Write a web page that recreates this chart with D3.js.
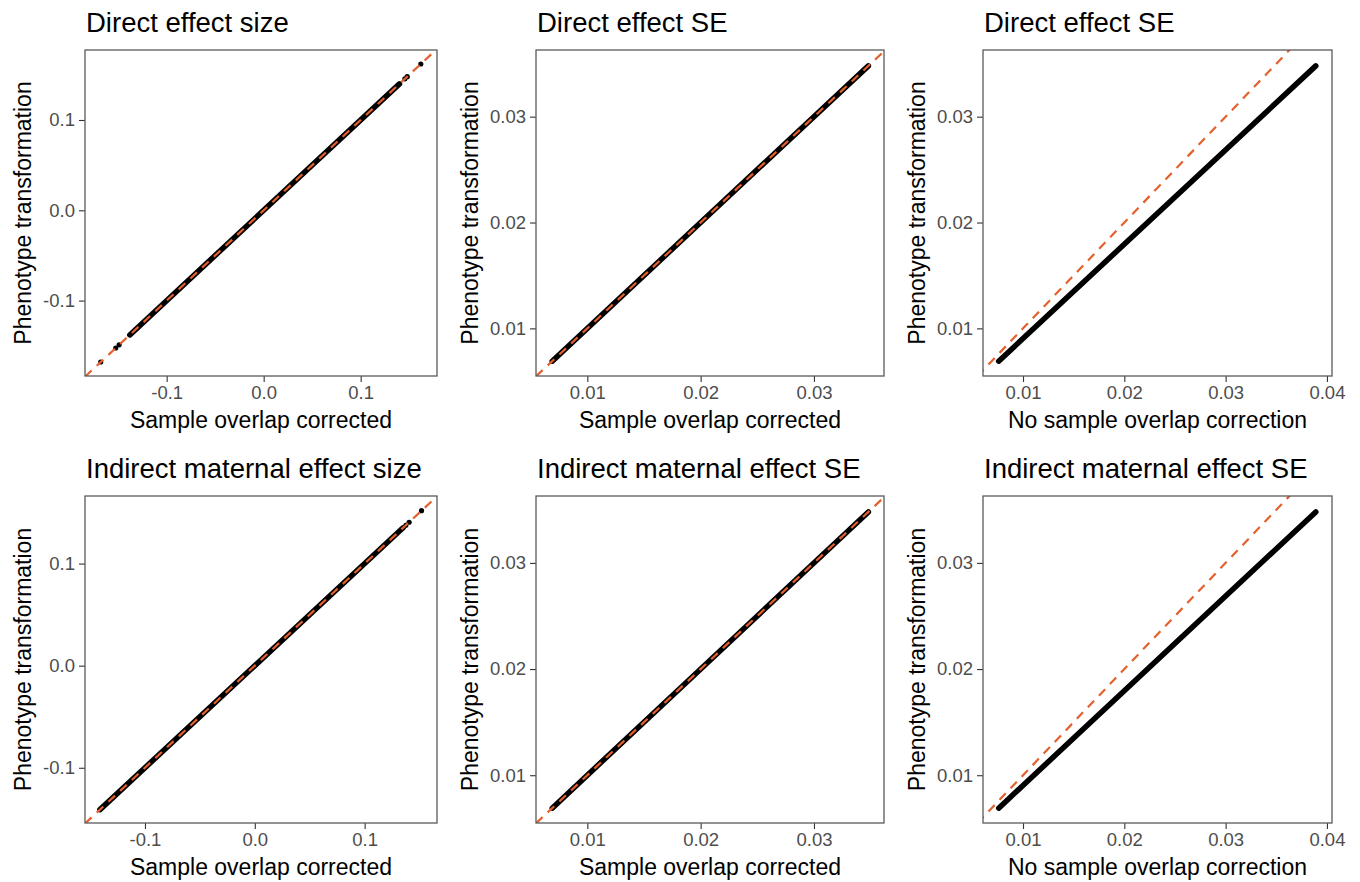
<!DOCTYPE html>
<html>
<head>
<meta charset="utf-8">
<script src="https://cdn.jsdelivr.net/npm/d3@7"></script>
<style>
  html, body { margin: 0; padding: 0; background: #fff; }
  svg { display: block; font-family: "Liberation Sans", Arial, Helvetica, sans-serif; }
</style>
</head>
<body>
<svg id="chart" width="1360" height="882"></svg>
<script>
// ---------------- data ----------------
const panelTitles = [
  "Direct effect size", "Direct effect SE", "Direct effect SE",
  "Indirect maternal effect size", "Indirect maternal effect SE", "Indirect maternal effect SE"
];
const xAxisTitles = [
  "Sample overlap corrected", "Sample overlap corrected", "No sample overlap correction",
  "Sample overlap corrected", "Sample overlap corrected", "No sample overlap correction"
];
const yAxisTitle = "Phenotype transformation";

// axis limits
const xDomains = [
  [-0.1842, 0.1787], [0.00547, 0.03618], [0.00605, 0.0405],
  [-0.1546, 0.1659], [0.00547, 0.03618], [0.00605, 0.0405]
];
const yDomains = [
  [-0.1835, 0.1775], [0.0055, 0.0363], [0.0055, 0.0363],
  [-0.1541, 0.1662], [0.0055, 0.0363], [0.0055, 0.0363]
];

// tick values and labels
const effectTicks = [-0.1, 0.0, 0.1];
const effectTickLabels = ["-0.1", "0.0", "0.1"];
const seTicks = [0.01, 0.02, 0.03];
const seTickLabels = ["0.01", "0.02", "0.03"];
const seTicksWide = [0.01, 0.02, 0.03, 0.04];
const seTickLabelsWide = ["0.01", "0.02", "0.03", "0.04"];

// dense runs of points (start and end of the continuous band): [x0, y0, x1, y1]
const denseRuns = [
  [-0.138, -0.138, 0.140, 0.140],
  [0.0069, 0.0069, 0.0348, 0.0348],
  [0.0076, 0.0069, 0.0389, 0.0348],
  [-0.141, -0.141, 0.135, 0.135],
  [0.0069, 0.0069, 0.0348, 0.0348],
  [0.0076, 0.0069, 0.0389, 0.0348]
];

// isolated points outside the dense band
const sparsePoints = [
  [[-0.168, -0.168], [-0.1525, -0.1525], [-0.149, -0.149], [0.1456, 0.1456], [0.148, 0.148], [0.162, 0.162]],
  [],
  [],
  [[0.1375, 0.1375], [0.1405, 0.1405], [0.1518, 0.1518]],
  [],
  []
];

// ---------------- layout ----------------
const svg = d3.select("#chart");
const colsX = [[85, 437], [536, 884], [983, 1332]];
const rowsY = [[50, 376], [496, 823]];
const orange = "#E4602C";

for (let i = 0; i < 6; i++) {
  const col = i % 3, row = Math.floor(i / 3);
  const [x0, x1] = colsX[col];
  const [y0, y1] = rowsY[row];
  const isEffect = (col === 0);
  const isWide = (col === 2);

  const x = d3.scaleLinear().domain(xDomains[i]).range([x0, x1]);
  const y = d3.scaleLinear().domain(yDomains[i]).range([y1, y0]);

  const g = svg.append("g");

  const clipId = "clip" + i;
  svg.append("clipPath").attr("id", clipId)
    .append("rect").attr("x", x0).attr("y", y0).attr("width", x1 - x0).attr("height", y1 - y0);

  // axes
  const xt = isEffect ? effectTicks : (isWide ? seTicksWide : seTicks);
  const xtl = isEffect ? effectTickLabels : (isWide ? seTickLabelsWide : seTickLabels);
  const yt = isEffect ? effectTicks : seTicks;
  const ytl = isEffect ? effectTickLabels : seTickLabels;

  const xAxis = d3.axisBottom(x).tickValues(xt).tickFormat((d, k) => xtl[k])
    .tickSize(6).tickPadding(4);
  const yAxis = d3.axisLeft(y).tickValues(yt).tickFormat((d, k) => ytl[k])
    .tickSize(6).tickPadding(4);

  const gx = g.append("g").attr("transform", `translate(0,${y1})`).call(xAxis);
  const gy = g.append("g").attr("transform", `translate(${x0},0)`).call(yAxis);
  [gx, gy].forEach(a => {
    a.select(".domain").remove();
    a.selectAll(".tick line").attr("stroke", "#333333").attr("stroke-width", 1.1);
    a.selectAll(".tick text").attr("fill", "#4d4d4d").attr("font-size", 18.5)
      .attr("font-family", "Liberation Sans, Arial, sans-serif");
  });
  gx.selectAll(".tick text").attr("dy", "0.71em");

  const plot = g.append("g").attr("clip-path", `url(#${clipId})`);

  // points: dense run
  const run = denseRuns[i];
  plot.append("line")
    .attr("x1", x(run[0])).attr("y1", y(run[1]))
    .attr("x2", x(run[2])).attr("y2", y(run[3]))
    .attr("stroke", "#000").attr("stroke-width", 5.5).attr("stroke-linecap", "round");

  // sparse points
  plot.selectAll("circle.pt").data(sparsePoints[i]).enter().append("circle")
    .attr("class", "pt")
    .attr("cx", d => x(d[0])).attr("cy", d => y(d[1])).attr("r", 2.6).attr("fill", "#000");

  // identity line y = x
  const lo = Math.min(xDomains[i][0], yDomains[i][0]);
  const hi = Math.max(xDomains[i][1], yDomains[i][1]);
  plot.append("line")
    .attr("x1", x(lo)).attr("y1", y(lo)).attr("x2", x(hi)).attr("y2", y(hi))
    .attr("stroke", orange).attr("stroke-width", 2.2).attr("stroke-dasharray", "9,7");

  // panel border
  g.append("rect").attr("x", x0).attr("y", y0).attr("width", x1 - x0).attr("height", y1 - y0)
    .attr("fill", "none").attr("stroke", "#5a5a5a").attr("stroke-width", 1.3);

  // title
  g.append("text").attr("x", x0 + 1).attr("y", y0 - 18)
    .attr("font-size", 27.5).attr("fill", "#000").text(panelTitles[i]);

  // x axis title
  g.append("text").attr("x", (x0 + x1) / 2).attr("y", y1 + 52)
    .attr("text-anchor", "middle").attr("font-size", 23).attr("fill", "#000")
    .text(xAxisTitles[i]);

  // y axis title
  const yLabelX = [31, 478, 925][col];
  g.append("text")
    .attr("transform", `translate(${yLabelX},${(y0 + y1) / 2}) rotate(-90)`)
    .attr("text-anchor", "middle").attr("font-size", 23).attr("fill", "#000")
    .text(yAxisTitle);
}
</script>
</body>
</html>
